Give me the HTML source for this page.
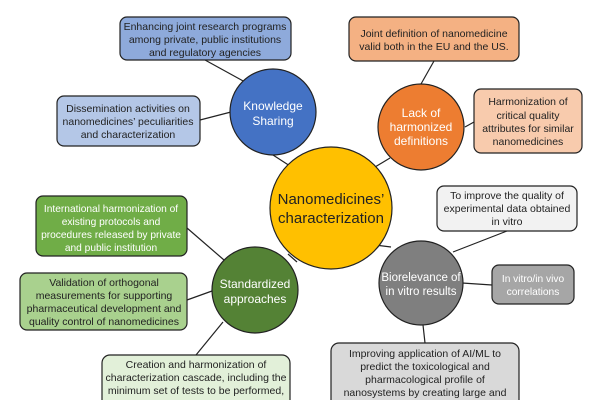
<!DOCTYPE html>
<html><head><meta charset="utf-8"><style>
html,body{margin:0;padding:0;background:#fff;width:600px;height:400px;overflow:hidden}
svg text{font-family:"Liberation Sans",sans-serif;text-anchor:middle}
</style></head><body>
<svg width="600" height="400" viewBox="0 0 600 400" xmlns="http://www.w3.org/2000/svg">
<g stroke="#222" stroke-width="1.2">
<line x1="205" y1="60" x2="245" y2="82"/>
<line x1="200" y1="120" x2="231" y2="112"/>
<line x1="273" y1="155" x2="290" y2="166"/>
<line x1="434" y1="61" x2="421" y2="84"/>
<line x1="465" y1="127" x2="474" y2="122"/>
<line x1="375" y1="167" x2="390" y2="158"/>
<line x1="507" y1="231" x2="453" y2="252"/>
<line x1="462" y1="283" x2="492" y2="285"/>
<line x1="423" y1="325" x2="425" y2="343"/>
<line x1="375" y1="245" x2="391" y2="247"/>
<line x1="187" y1="228" x2="224" y2="260"/>
<line x1="187" y1="300" x2="212" y2="291"/>
<line x1="223" y1="322" x2="196" y2="355"/>
<line x1="288" y1="254" x2="297" y2="262"/>
</g>
<g stroke="#222" stroke-width="1.2">
<rect x="120" y="17" width="171" height="43" rx="7" fill="#8eaadb"/>
<rect x="57" y="96" width="143" height="50" rx="7" fill="#b4c7e7"/>
<rect x="349" y="17" width="170" height="44" rx="7" fill="#f4b183"/>
<rect x="474" y="89" width="108" height="64" rx="7" fill="#f8cbad"/>
<rect x="437" y="186" width="140" height="45" rx="7" fill="#f2f2f2"/>
<rect x="492" y="265" width="82" height="39" rx="7" fill="#a6a6a6"/>
<rect x="331" y="343" width="188" height="70" rx="8" fill="#d9d9d9"/>
<rect x="36" y="196" width="151" height="60" rx="7" fill="#70ad47"/>
<rect x="20" y="273" width="167" height="57" rx="7" fill="#a9d18e"/>
<rect x="102" y="355" width="188" height="60" rx="8" fill="#e2f0d9"/>
<circle cx="273" cy="112" r="43" fill="#4472c4"/>
<circle cx="421" cy="127" r="43" fill="#ed7d31"/>
<circle cx="331" cy="208" r="61" fill="#ffc000"/>
<circle cx="421" cy="283" r="42" fill="#7f7f7f"/>
<circle cx="255" cy="290" r="43" fill="#548235"/>
</g>
<g font-size="10.5" fill="#222">
<text x="205" y="30">Enhancing joint research programs</text>
<text x="205" y="43">among private, public institutions</text>
<text x="205" y="56">and regulatory agencies</text>
<text x="128" y="112">Dissemination activities on</text>
<text x="128" y="125">nanomedicines’ peculiarities</text>
<text x="128" y="138">and characterization</text>
<text x="434" y="37">Joint definition of nanomedicine</text>
<text x="434" y="50">valid both in the EU and the US.</text>
<text x="528" y="105">Harmonization of</text>
<text x="528" y="119">critical quality</text>
<text x="528" y="132">attributes for similar</text>
<text x="528" y="145">nanomedicines</text>
<text x="507" y="199">To improve the quality of</text>
<text x="507" y="212">experimental data obtained</text>
<text x="507" y="225">in vitro</text>
<text x="425" y="357">Improving application of AI/ML to</text>
<text x="425" y="370">predict the toxicological and</text>
<text x="425" y="383">pharmacological profile of</text>
<text x="425" y="396">nanosystems by creating large and</text>
<text x="104" y="286">Validation of orthogonal</text>
<text x="104" y="299">measurements for supporting</text>
<text x="104" y="312">pharmaceutical development and</text>
<text x="104" y="325">quality control of nanomedicines</text>
<text x="196" y="368">Creation and harmonization of</text>
<text x="196" y="381">characterization cascade, including the</text>
<text x="196" y="394">minimum set of tests to be performed,</text>
</g>
<g font-size="10.2" fill="#fff">
<text x="111" y="212">International harmonization of</text>
<text x="111" y="225">existing protocols and</text>
<text x="111" y="238">procedures released by private</text>
<text x="111" y="251">and public institution</text>
<text x="533" y="282">In vitro/in vivo</text>
<text x="533" y="295">correlations</text>
</g>
<g font-size="12" fill="#fff">
<text x="273" y="110">Knowledge</text>
<text x="273" y="125">Sharing</text>
<text x="421" y="117">Lack of</text>
<text x="421" y="131">harmonized</text>
<text x="421" y="145">definitions</text>
<text x="421" y="281" font-size="11.5">Biorelevance of</text>
<text x="421" y="295" font-size="11.5">in vitro results</text>
<text x="255" y="288">Standardized</text>
<text x="255" y="303">approaches</text>
</g>
<g font-size="15" fill="#222">
<text x="331" y="204">Nanomedicines’</text>
<text x="331" y="223">characterization</text>
</g>
</svg>
</body></html>
